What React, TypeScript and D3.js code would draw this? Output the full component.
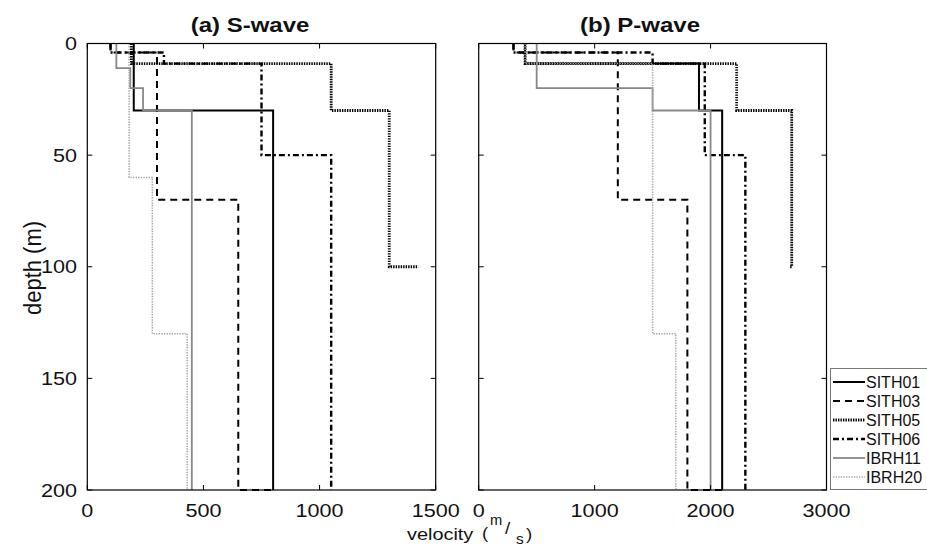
import React from "react";
import * as d3 from "d3";

// ---- data ----
const stations = ["SITH01", "SITH03", "SITH05", "SITH06", "IBRH11", "IBRH20"];
// layer boundaries (m); last pair equal => final step drawn at that depth
const SITH01_depth = [0, 9, 30, 200];
const SITH01_vs = [200, 200, 800];
const SITH01_vp = [400, 1900, 2100];
const SITH03_depth = [0, 4, 70, 200, 200];
const SITH03_vs = [100, 300, 650, 800];
const SITH03_vp = [300, 1200, 1800, 2100];
const SITH05_depth = [0, 9, 30, 100, 100];
const SITH05_vs = [190, 1050, 1300, 1425];
const SITH05_vp = [400, 2225, 2700, 2680];
const SITH06_depth = [0, 4, 9, 50, 200];
const SITH06_vs = [100, 330, 750, 1050];
const SITH06_vp = [300, 1500, 1950, 2300];
const IBRH11_depth = [0, 11, 20, 30, 200];
const IBRH11_vs = [125, 185, 240, 450];
const IBRH11_vp = [500, 500, 1500, 2000];
const IBRH20_depth = [0, 9, 60, 130, 200];
const IBRH20_vs = [180, 180, 280, 430];
const IBRH20_vp = [400, 1500, 1500, 1700];

const depthTicks = [0, 50, 100, 150, 200];
const sTicks = [0, 500, 1000, 1500];
const pTicks = [0, 1000, 2000, 3000];

const profiles = [
  { name: "SITH01", depth: SITH01_depth, vs: SITH01_vs, vp: SITH01_vp },
  { name: "SITH03", depth: SITH03_depth, vs: SITH03_vs, vp: SITH03_vp },
  { name: "SITH05", depth: SITH05_depth, vs: SITH05_vs, vp: SITH05_vp },
  { name: "SITH06", depth: SITH06_depth, vs: SITH06_vs, vp: SITH06_vp },
  { name: "IBRH11", depth: IBRH11_depth, vs: IBRH11_vs, vp: IBRH11_vp },
  { name: "IBRH20", depth: IBRH20_depth, vs: IBRH20_vs, vp: IBRH20_vp },
];

const styles: Record<string, { stroke: string; width: number; dash: string | undefined }> = {
  SITH01: { stroke: "#000", width: 2, dash: undefined },
  SITH03: { stroke: "#000", width: 2, dash: "7,5" },
  SITH05: { stroke: "#000", width: 2.8, dash: "1.4,1.1" },
  SITH06: { stroke: "#000", width: 2.4, dash: "6,3,2,3" },
  IBRH11: { stroke: "#888", width: 1.8, dash: undefined },
  IBRH20: { stroke: "#a8a8a8", width: 1.5, dash: "1.4,1.2" },
};

const FONT = "'Liberation Sans', Arial, Helvetica, sans-serif";
const top = 43.5;
const bottom = 490;

const y = d3.scaleLinear().domain([0, 200]).range([top, bottom]);
const xS = d3.scaleLinear().domain([0, 1500]).range([87.3, 435.7]);
const xP = d3.scaleLinear().domain([0, 3000]).range([478.7, 826.5]);

function stepPoints(depth: number[], vel: number[]): [number, number][] {
  const pts: [number, number][] = [];
  for (let i = 0; i < vel.length; i++) {
    pts.push([vel[i], depth[i]]);
    pts.push([vel[i], depth[i + 1]]);
  }
  return pts;
}

function T({ x, y, size, sx = 1.2, anchor = "start", weight = "normal", children, rotate = 0 }: any) {
  const tr = rotate
    ? `translate(${x},${y}) rotate(${rotate}) scale(1,${sx})`
    : `translate(${x},${y}) scale(${sx},1)`;
  return (
    <text transform={tr} fontSize={size} fontFamily={FONT} textAnchor={anchor} fontWeight={weight} fill="#111">
      {children}
    </text>
  );
}

function Panel({ x, ticks, key2, showY, title, titleX }: any) {
  const line = d3
    .line<[number, number]>()
    .x((d) => x(d[0]))
    .y((d) => y(d[1]));
  const [x0, x1] = x.range();
  const tl = 5;
  return (
    <g>
      <T x={titleX} y={32} size={20} anchor="middle" weight="bold">
        {title}
      </T>
      {profiles.map((p) => {
        const st = styles[p.name];
        return (
          <path
            key={p.name}
            d={line(stepPoints(p.depth, p[key2]))!}
            fill="none"
            stroke={st.stroke}
            strokeWidth={st.width}
            strokeDasharray={st.dash}
          />
        );
      })}
      <rect x={x0} y={top} width={x1 - x0} height={bottom - top} fill="none" stroke="#000" strokeWidth={1.2} />
      {ticks.map((t: number) => (
        <g key={"x" + t}>
          <line x1={x(t)} x2={x(t)} y1={bottom} y2={bottom - tl} stroke="#000" />
          <line x1={x(t)} x2={x(t)} y1={top} y2={top + tl} stroke="#000" />
          <T x={x(t)} y={517} size={18} anchor="middle">
            {t}
          </T>
        </g>
      ))}
      {depthTicks.map((t) => (
        <g key={"y" + t}>
          <line x1={x0} x2={x0 + tl} y1={y(t)} y2={y(t)} stroke="#000" />
          <line x1={x1} x2={x1 - tl} y1={y(t)} y2={y(t)} stroke="#000" />
          {showY && (
            <T x={77} y={y(t) + 6.5} size={18} anchor="end">
              {t}
            </T>
          )}
        </g>
      ))}
    </g>
  );
}

export default function App() {
  const legY0 = 382;
  const legDy = 19;
  return (
    <svg
      width={927}
      height={547}
      style={{ position: "absolute", left: 0, top: 0, background: "#fff" }}
    >
      <rect width={927} height={547} fill="#fff" />
      <Panel x={xS} ticks={sTicks} key2="vs" showY={true} title="(a) S-wave" titleX={250} />
      <Panel x={xP} ticks={pTicks} key2="vp" showY={false} title="(b) P-wave" titleX={640} />
      <T x={41} y={268} size={22} anchor="middle" rotate={-90} sx={1.12}>
        depth (m)
      </T>
      <g fontFamily={FONT} fill="#111">
        <text transform="translate(407,540) scale(1.17,1)" fontSize={17}>velocity</text>
        <text transform="translate(482,539) scale(1.1,1)" fontSize={17}>(</text>
        <text transform="translate(490,525) scale(1.05,1)" fontSize={14}>m</text>
        <text transform="translate(505,534) scale(1.1,1)" fontSize={17}>/</text>
        <text transform="translate(516,544) scale(1.1,1)" fontSize={14}>s</text>
        <text transform="translate(526,540) scale(1.1,1)" fontSize={17}>)</text>
      </g>
      {/* legend */}
      <rect x={830.5} y={368.5} width={110} height={121} fill="#fff" stroke="#777" strokeWidth={1} />
      {stations.map((s, i) => {
        const st = styles[s];
        const ly = legY0 + i * legDy;
        return (
          <g key={s}>
            <line
              x1={833}
              x2={865}
              y1={ly}
              y2={ly}
              stroke={st.stroke}
              strokeWidth={st.width}
              strokeDasharray={st.dash}
            />
            <T x={866} y={ly + 6} size={16} sx={1.0}>
              {s}
            </T>
          </g>
        );
      })}
    </svg>
  );
}
